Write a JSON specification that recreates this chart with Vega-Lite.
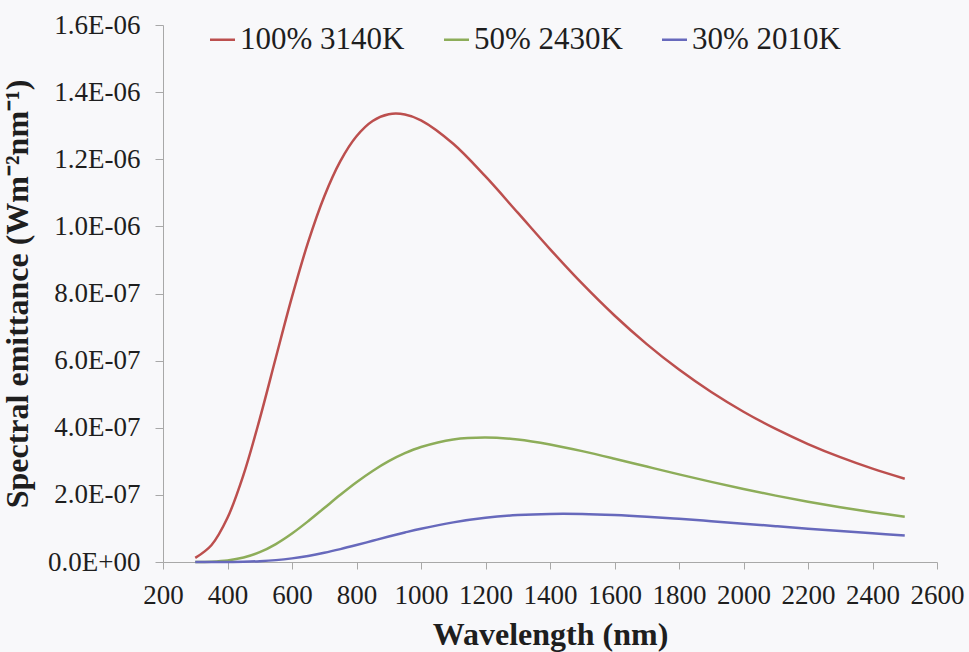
{
  "$schema": "https://vega.github.io/schema/vega-lite/v6.json",
  "width": 774,
  "height": 537,
  "autosize": {"type": "none"},
  "padding": {"left": 163, "top": 25, "right": 32, "bottom": 90},
  "background": "#F8F8FA",
  "config": {
    "view": {"stroke": null},
    "font": "Times New Roman, Liberation Serif, serif",
    "axis": {
      "grid": false,
      "domainColor": "#A8A8A8",
      "tickColor": "#A8A8A8",
      "labelColor": "#1E1E1E",
      "titleColor": "#1E1E1E",
      "labelFont": "Times New Roman, Liberation Serif, serif",
      "titleFont": "Times New Roman, Liberation Serif, serif",
      "titleFontWeight": "bold"
    }
  },
  "datasets": {
    "spectra": [
      {"w": 300, "s": "100% 3140K", "v": 1.22e-8},
      {"w": 350, "s": "100% 3140K", "v": 5.0e-8},
      {"w": 400, "s": "100% 3140K", "v": 1.317e-7},
      {"w": 450, "s": "100% 3140K", "v": 2.609e-7},
      {"w": 500, "s": "100% 3140K", "v": 4.266e-7},
      {"w": 550, "s": "100% 3140K", "v": 6.094e-7},
      {"w": 600, "s": "100% 3140K", "v": 7.899e-7},
      {"w": 650, "s": "100% 3140K", "v": 9.53e-7},
      {"w": 700, "s": "100% 3140K", "v": 1.0892e-6},
      {"w": 750, "s": "100% 3140K", "v": 1.1944e-6},
      {"w": 800, "s": "100% 3140K", "v": 1.2684e-6},
      {"w": 850, "s": "100% 3140K", "v": 1.3139e-6},
      {"w": 900, "s": "100% 3140K", "v": 1.334e-6},
      {"w": 950, "s": "100% 3140K", "v": 1.3334e-6},
      {"w": 1000, "s": "100% 3140K", "v": 1.3161e-6},
      {"w": 1100, "s": "100% 3140K", "v": 1.2462e-6},
      {"w": 1200, "s": "100% 3140K", "v": 1.1487e-6},
      {"w": 1300, "s": "100% 3140K", "v": 1.0408e-6},
      {"w": 1400, "s": "100% 3140K", "v": 9.323e-7},
      {"w": 1500, "s": "100% 3140K", "v": 8.292e-7},
      {"w": 1600, "s": "100% 3140K", "v": 7.345e-7},
      {"w": 1700, "s": "100% 3140K", "v": 6.492e-7},
      {"w": 1800, "s": "100% 3140K", "v": 5.733e-7},
      {"w": 1900, "s": "100% 3140K", "v": 5.064e-7},
      {"w": 2000, "s": "100% 3140K", "v": 4.477e-7},
      {"w": 2100, "s": "100% 3140K", "v": 3.964e-7},
      {"w": 2200, "s": "100% 3140K", "v": 3.515e-7},
      {"w": 2300, "s": "100% 3140K", "v": 3.124e-7},
      {"w": 2400, "s": "100% 3140K", "v": 2.782e-7},
      {"w": 2500, "s": "100% 3140K", "v": 2.482e-7},
      {"w": 300, "s": "50% 2430K", "v": 1.4e-10},
      {"w": 350, "s": "50% 2430K", "v": 1.1e-9},
      {"w": 400, "s": "50% 2430K", "v": 4.6e-9},
      {"w": 450, "s": "50% 2430K", "v": 1.33e-8},
      {"w": 500, "s": "50% 2430K", "v": 2.93e-8},
      {"w": 550, "s": "50% 2430K", "v": 5.35e-8},
      {"w": 600, "s": "50% 2430K", "v": 8.49e-8},
      {"w": 650, "s": "50% 2430K", "v": 1.215e-7},
      {"w": 700, "s": "50% 2430K", "v": 1.608e-7},
      {"w": 750, "s": "50% 2430K", "v": 2.002e-7},
      {"w": 800, "s": "50% 2430K", "v": 2.376e-7},
      {"w": 850, "s": "50% 2430K", "v": 2.712e-7},
      {"w": 900, "s": "50% 2430K", "v": 3.003e-7},
      {"w": 950, "s": "50% 2430K", "v": 3.241e-7},
      {"w": 1000, "s": "50% 2430K", "v": 3.427e-7},
      {"w": 1100, "s": "50% 2430K", "v": 3.653e-7},
      {"w": 1200, "s": "50% 2430K", "v": 3.712e-7},
      {"w": 1300, "s": "50% 2430K", "v": 3.648e-7},
      {"w": 1400, "s": "50% 2430K", "v": 3.501e-7},
      {"w": 1500, "s": "50% 2430K", "v": 3.303e-7},
      {"w": 1600, "s": "50% 2430K", "v": 3.079e-7},
      {"w": 1700, "s": "50% 2430K", "v": 2.844e-7},
      {"w": 1800, "s": "50% 2430K", "v": 2.611e-7},
      {"w": 1900, "s": "50% 2430K", "v": 2.387e-7},
      {"w": 2000, "s": "50% 2430K", "v": 2.175e-7},
      {"w": 2100, "s": "50% 2430K", "v": 1.978e-7},
      {"w": 2200, "s": "50% 2430K", "v": 1.798e-7},
      {"w": 2300, "s": "50% 2430K", "v": 1.633e-7},
      {"w": 2400, "s": "50% 2430K", "v": 1.483e-7},
      {"w": 2500, "s": "50% 2430K", "v": 1.348e-7},
      {"w": 300, "s": "30% 2010K", "v": 2e-12},
      {"w": 350, "s": "30% 2010K", "v": 3e-11},
      {"w": 400, "s": "30% 2010K", "v": 2e-10},
      {"w": 450, "s": "30% 2010K", "v": 8.5e-10},
      {"w": 500, "s": "30% 2010K", "v": 2.5e-9},
      {"w": 550, "s": "30% 2010K", "v": 5.6e-9},
      {"w": 600, "s": "30% 2010K", "v": 1.08e-8},
      {"w": 650, "s": "30% 2010K", "v": 1.81e-8},
      {"w": 700, "s": "30% 2010K", "v": 2.74e-8},
      {"w": 750, "s": "30% 2010K", "v": 3.84e-8},
      {"w": 800, "s": "30% 2010K", "v": 5.05e-8},
      {"w": 850, "s": "30% 2010K", "v": 6.32e-8},
      {"w": 900, "s": "30% 2010K", "v": 7.58e-8},
      {"w": 950, "s": "30% 2010K", "v": 8.79e-8},
      {"w": 1000, "s": "30% 2010K", "v": 9.92e-8},
      {"w": 1100, "s": "30% 2010K", "v": 1.181e-7},
      {"w": 1200, "s": "30% 2010K", "v": 1.317e-7},
      {"w": 1300, "s": "30% 2010K", "v": 1.398e-7},
      {"w": 1400, "s": "30% 2010K", "v": 1.433e-7},
      {"w": 1500, "s": "30% 2010K", "v": 1.431e-7},
      {"w": 1600, "s": "30% 2010K", "v": 1.4e-7},
      {"w": 1700, "s": "30% 2010K", "v": 1.35e-7},
      {"w": 1800, "s": "30% 2010K", "v": 1.287e-7},
      {"w": 1900, "s": "30% 2010K", "v": 1.216e-7},
      {"w": 2000, "s": "30% 2010K", "v": 1.142e-7},
      {"w": 2100, "s": "30% 2010K", "v": 1.067e-7},
      {"w": 2200, "s": "30% 2010K", "v": 9.93e-8},
      {"w": 2300, "s": "30% 2010K", "v": 9.21e-8},
      {"w": 2400, "s": "30% 2010K", "v": 8.53e-8},
      {"w": 2500, "s": "30% 2010K", "v": 7.89e-8}
    ]
  },
  "data": {"name": "spectra"},
  "mark": {"type": "line", "interpolate": "catmull-rom", "strokeWidth": 2.5},
  "encoding": {
    "x": {
      "field": "w",
      "type": "quantitative",
      "scale": {"domain": [200, 2600], "nice": false, "zero": false},
      "axis": {
        "values": [200, 400, 600, 800, 1000, 1200, 1400, 1600, 1800, 2000, 2200, 2400, 2600],
        "format": "d",
        "title": "Wavelength (nm)",
        "labelFontSize": 27,
        "titleFontSize": 32,
        "tickSize": 7,
        "labelPadding": 13,
        "titlePadding": 11,
        "labelFlush": false,
        "labelOverlap": false
      }
    },
    "y": {
      "field": "v",
      "type": "quantitative",
      "scale": {"domain": [0, 1.6e-6], "nice": false},
      "axis": {
        "values": [0, 2e-7, 4e-7, 6e-7, 8e-7, 1e-6, 1.2e-6, 1.4e-6, 1.6e-6],
        "labelExpr": "datum.value == 0 ? '0.0E+00' : format(datum.value / pow(10, floor(log(datum.value) / LN10 + 1e-9)), '.1f') + 'E-0' + abs(floor(log(datum.value) / LN10 + 1e-9))",
        "title": "Spectral emittance (Wm⁻²nm⁻¹)",
        "labelFontSize": 27,
        "titleFontSize": 32,
        "tickSize": 8,
        "labelPadding": 15,
        "titlePadding": 13,
        "labelFlush": false,
        "labelOverlap": false
      }
    },
    "color": {
      "field": "s",
      "type": "nominal",
      "scale": {
        "domain": ["100% 3140K", "50% 2430K", "30% 2010K"],
        "range": ["#BC4F4E", "#8DAD59", "#6769BC"]
      },
      "legend": {
        "orient": "none",
        "legendX": 44,
        "legendY": -1,
        "direction": "horizontal",
        "title": null,
        "symbolType": "stroke",
        "symbolSize": 625,
        "symbolStrokeWidth": 2.5,
        "labelFontSize": 31,
        "labelFont": "Times New Roman, Liberation Serif, serif",
        "labelColor": "#1E1E1E",
        "labelOffset": 2,
        "columnPadding": 34,
        "labelLimit": 400
      }
    }
  }
}
